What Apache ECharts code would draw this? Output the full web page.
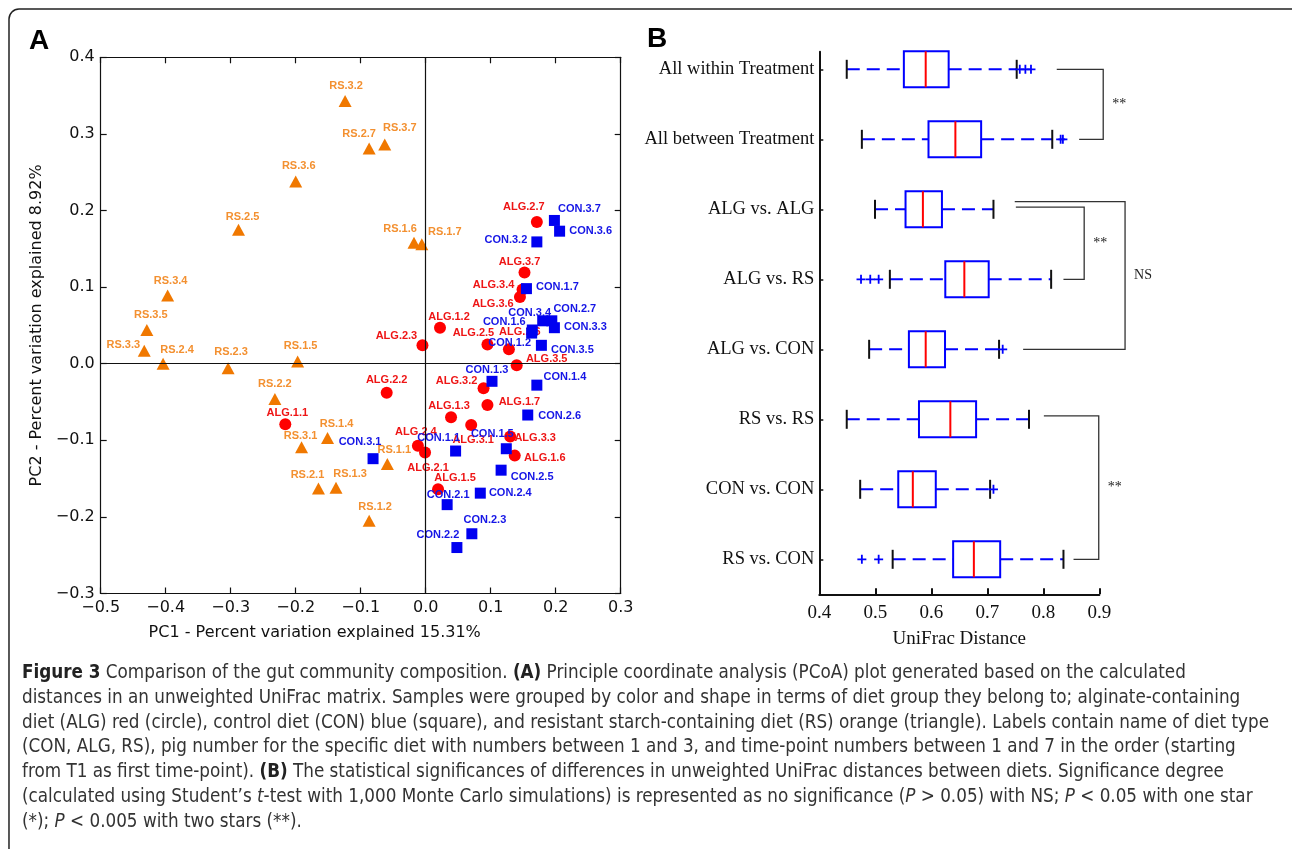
<!DOCTYPE html>
<html>
<head>
<meta charset="utf-8">
<script src="https://cdn.jsdelivr.net/npm/echarts@6/dist/echarts.min.js"></script>
<style>
html, body { margin: 0; padding: 0; background: #fff; }
#main { width: 1292px; height: 849px; }
</style>
</head>
<body>
<div id="main"></div>
<script>
// ---- panel A: PCoA scores ----
var rsLabels = ['RS.3.2','RS.2.7','RS.3.7','RS.3.6','RS.2.5','RS.1.6','RS.1.7','RS.3.4','RS.3.5','RS.3.3',
                'RS.2.4','RS.2.3','RS.1.5','RS.2.2','RS.1.4','RS.3.1','RS.1.1','RS.2.1','RS.1.3','RS.1.2'];
var rsPc1 = [-0.124,-0.087,-0.063,-0.200,-0.288,-0.018,-0.006,-0.397,-0.429,-0.433,
             -0.404,-0.304,-0.197,-0.232,-0.151,-0.191,-0.059,-0.165,-0.138,-0.087];
var rsPc2 = [0.343,0.281,0.286,0.238,0.175,0.158,0.156,0.089,0.044,0.017,
             0.000,-0.006,0.003,-0.046,-0.097,-0.109,-0.131,-0.163,-0.162,-0.205];

var algLabels = ['ALG.2.7','ALG.3.7','ALG.3.4','ALG.3.6','ALG.1.2','ALG.2.3','ALG.2.5','ALG.2.6','ALG.3.5','ALG.2.2',
                 'ALG.3.2','ALG.1.7','ALG.1.3','ALG.1.1','ALG.3.1','ALG.3.3','ALG.2.4','ALG.2.1','ALG.1.6','ALG.1.5'];
var algPc1 = [0.171,0.152,0.149,0.145,0.022,-0.005,0.095,0.128,0.140,-0.060,
              0.089,0.095,0.039,-0.216,0.070,0.130,-0.012,-0.001,0.137,0.019];
var algPc2 = [0.185,0.119,0.097,0.087,0.047,0.024,0.025,0.019,-0.002,-0.038,
              -0.032,-0.054,-0.070,-0.079,-0.080,-0.095,-0.107,-0.116,-0.120,-0.164];

var conLabels = ['CON.3.7','CON.3.6','CON.3.2','CON.1.7','CON.3.4','CON.2.7','CON.1.6','CON.3.3','CON.1.2','CON.3.5','CON.1.3',
                 'CON.1.4','CON.2.6','CON.3.1','CON.1.1','CON.1.5','CON.2.5','CON.2.4','CON.2.1','CON.2.3','CON.2.2'];
var conPc1 = [0.198,0.206,0.171,0.155,0.180,0.194,0.164,0.198,0.163,0.178,0.102,
              0.171,0.157,-0.081,0.046,0.124,0.116,0.084,0.033,0.071,0.048];
var conPc2 = [0.187,0.173,0.159,0.098,0.056,0.056,0.044,0.047,0.040,0.024,-0.023,
              -0.028,-0.067,-0.124,-0.114,-0.111,-0.139,-0.169,-0.184,-0.222,-0.240];

// label placement (pixels from the marker), layout only
var rsLabelOffset = [[1,-15],[-10,-14],[15,-17],[3,-15],[4,-13],[-14,-14],[23,-12],[3,-15],[4,-15],[-21,-6],
                     [14,-14],[3,-16],[3,-15],[0,-15],[9,-14],[-1,-11],[7,-14],[-11,-14],[14,-14],[6,-14]];
var algLabelOffset = [[-13,-15],[-5,-11],[-29,-4],[-27,7],[9,-11],[-26,-9],[-14,-12],[11,-17],[30,-6],[0,-13],
                      [-27,-7],[32,-3],[-2,-11],[2,-11],[2,15],[25,1],[-2,-14],[3,15],[30,2],[17,-11]];
var conLabelOffset = [[25,-11],[31,0],[-31,-2],[31,-2],[-13,-8],[23,-12],[-28,-8],[31,-1],[-22,10],[31,5],[-5,-11],
                      [28,-8],[32,1],[-13,-17],[-17,-13],[-14,-15],[31,7],[30,0],[1,-10],[13,-14],[-19,-13]];

// ---- panel B: UniFrac distance box plots ----
var boxCats = ['All within Treatment','All between Treatment','ALG vs. ALG','ALG vs. RS',
               'ALG vs. CON','RS vs. RS','CON vs. CON','RS vs. CON'];
var boxLow  = [0.449, 0.476, 0.4995, 0.526, 0.489, 0.449, 0.473, 0.531];
var boxQ1   = [0.551, 0.595, 0.554, 0.625, 0.560, 0.578, 0.541, 0.639];
var boxMed  = [0.590, 0.643, 0.585, 0.659, 0.590, 0.634, 0.567, 0.676];
var boxQ3   = [0.631, 0.689, 0.619, 0.7025, 0.6245, 0.680, 0.608, 0.723];
var boxHigh = [0.7525, 0.816, 0.711, 0.814, 0.721, 0.7745, 0.705, 0.836];
var outlierRow = [0, 0, 0, 1, 1, 3, 3, 3, 4, 6, 7, 7];
var outlierVal = [0.758, 0.768, 0.778, 0.831, 0.835, 0.4745, 0.491, 0.506, 0.7275, 0.711, 0.476, 0.506];

var sigLabels = ['**', '**', 'NS', '**'];
var sigStartX = [0.824, 0.751, 0.749, 0.801];
var sigBarX   = [0.907, 0.873, 0.946, 0.899];
var sigEndX   = [0.864, 0.836, 0.764, 0.854];
var sigTopRow = [0, 1.97, 1.89, 4.95];
var sigBotRow = [1, 3, 4, 7];

var captionLines = [
  '{b|Figure 3} Comparison of the gut community composition. {b|(A)} Principle coordinate analysis (PCoA) plot generated based on the calculated',
  'distances in an unweighted UniFrac matrix. Samples were grouped by color and shape in terms of diet group they belong to; alginate-containing',
  'diet (ALG) red (circle), control diet (CON) blue (square), and resistant starch-containing diet (RS) orange (triangle). Labels contain name of diet type',
  '(CON, ALG, RS), pig number for the specific diet with numbers between 1 and 3, and time-point numbers between 1 and 7 in the order (starting',
  'from T1 as first time-point). {b|(B)} The statistical significances of differences in unweighted UniFrac distances between diets. Significance degree',
  '(calculated using Student\u2019s {i|t}-test with 1,000 Monte Carlo simulations) is represented as no significance ({i|P} > 0.05) with NS; {i|P} < 0.05 with one star',
  '(*); {i|P} < 0.005 with two stars (**).'
];

function pcaData(labels, xs, ys, offs) {
    var out = [];
    for (var i = 0; i < labels.length; i++) {
        out.push({ name: labels[i], value: [xs[i], ys[i]], label: { offset: offs[i] } });
    }
    return out;
}

function minusFmt(v) {
    var s = Math.abs(v).toFixed(1);
    return (v < -1e-9 ? '\u2212' : '') + s;
}

var SANS = 'DejaVu Sans';
var SERIF = 'Liberation Serif';
var CAP_FONT = 'DejaVu Sans Condensed, sans-serif';

var myChart = echarts.init(document.getElementById('main'));

var boxData = [];
for (var i = 0; i < boxCats.length; i++) {
    boxData.push([boxLow[i], boxQ1[i], boxMed[i], boxQ3[i], boxHigh[i], i]);
}
var outData = [];
for (var i = 0; i < outlierVal.length; i++) {
    outData.push([outlierVal[i], outlierRow[i]]);
}
var sigData = [];
for (var i = 0; i < sigLabels.length; i++) {
    sigData.push([sigStartX[i], sigBarX[i], sigEndX[i], sigTopRow[i], sigBotRow[i], i]);
}

var captionGraphics = [];
for (var i = 0; i < captionLines.length; i++) {
    captionGraphics.push({
        type: 'text', left: 22, top: 664 + i * 24.7, silent: true,
        style: {
            text: captionLines[i],
            fill: '#333', font: '18.7px ' + CAP_FONT,
            rich: {
                b: { fontWeight: 'bold', fontSize: 18.7, fontFamily: CAP_FONT, fill: '#222' },
                i: { fontStyle: 'italic', fontSize: 18.7, fontFamily: CAP_FONT, fill: '#333' }
            }
        }
    });
}

var labelBase = { show: true, position: 'inside', formatter: '{b}', fontSize: 11, fontWeight: 'bold', fontFamily: 'Liberation Sans' };

var frameA = {
    axisLine: { onZero: false, lineStyle: { color: '#111', width: 1.2 } },
    axisTick: { inside: true, length: 6, lineStyle: { color: '#111', width: 1.2 } },
    splitLine: { show: false }
};

var option = {
    animation: false,
    backgroundColor: '#fff',
    grid: [
        { left: 100.7, top: 57.3, width: 520, height: 536.2 },
        { left: 819.3, top: 51.8, width: 280, height: 542.5 }
    ],
    xAxis: [
        echarts.util.extend({
            gridIndex: 0, type: 'value', position: 'bottom', min: -0.5, max: 0.3, interval: 0.1,
            name: 'PC1 - Percent variation explained 15.31%', nameLocation: 'middle', nameGap: 31,
            nameTextStyle: { fontFamily: SANS, fontSize: 16, color: '#111', padding: [0, 92, 0, 0] },
            axisLabel: { margin: 6, fontFamily: SANS, fontSize: 16, color: '#111', formatter: minusFmt }
        }, frameA),
        echarts.util.extend({
            gridIndex: 0, type: 'value', position: 'top', min: -0.5, max: 0.3, interval: 0.1,
            axisLabel: { show: false }
        }, frameA),
        {
            gridIndex: 1, type: 'value', position: 'bottom', min: 0.4, max: 0.9, interval: 0.1,
            name: 'UniFrac Distance', nameLocation: 'middle', nameGap: 35,
            nameTextStyle: { fontFamily: SERIF, fontSize: 19, color: '#111' },
            axisLine: { onZero: false, lineStyle: { color: '#111', width: 2 } },
            axisTick: { inside: true, length: 6, lineStyle: { color: '#111', width: 2 } },
            axisLabel: { margin: 9, fontFamily: SERIF, fontSize: 19, color: '#111', formatter: function (v) { return v.toFixed(1); } },
            splitLine: { show: false }
        }
    ],
    yAxis: [
        echarts.util.extend({
            gridIndex: 0, type: 'value', position: 'left', min: -0.3, max: 0.4, interval: 0.1,
            name: 'PC2 - Percent variation explained 8.92%', nameLocation: 'middle', nameGap: 56,
            nameTextStyle: { fontFamily: SANS, fontSize: 16, color: '#111' },
            axisLabel: { margin: 6, fontFamily: SANS, fontSize: 16, color: '#111', formatter: minusFmt }
        }, frameA),
        echarts.util.extend({
            gridIndex: 0, type: 'value', position: 'right', min: -0.3, max: 0.4, interval: 0.1,
            axisLabel: { show: false }
        }, frameA),
        {
            gridIndex: 1, type: 'value', position: 'left', min: -0.25, max: 7.5, inverse: true,
            axisLine: { onZero: false, lineStyle: { color: '#111', width: 2 } },
            axisTick: { inside: true, length: 4, customValues: [0, 1, 2, 3, 4, 5, 6, 7], lineStyle: { color: '#111', width: 1.5 } },
            axisLabel: {
                margin: 5, fontFamily: SERIF, fontSize: 18.5, color: '#111',
                customValues: [0, 1, 2, 3, 4, 5, 6, 7],
                formatter: function (v) { return boxCats[Math.round(v)]; }
            },
            splitLine: { show: false }
        }
    ],
    series: [
        {
            name: 'RS', type: 'scatter', xAxisIndex: 0, yAxisIndex: 0, z: 2,
            symbol: 'triangle', symbolSize: [13, 12],
            itemStyle: { color: '#f07800', opacity: 1 },
            label: echarts.util.extend({ color: '#f39030' }, labelBase),
            data: pcaData(rsLabels, rsPc1, rsPc2, rsLabelOffset),
            markLine: {
                silent: true, symbol: 'none', label: { show: false },
                lineStyle: { color: '#111', width: 1.2, type: 'solid' },
                data: [{ xAxis: 0 }, { yAxis: 0 }]
            }
        },
        {
            name: 'ALG', type: 'scatter', xAxisIndex: 0, yAxisIndex: 0, z: 3,
            symbol: 'circle', symbolSize: 12,
            itemStyle: { color: '#ff0000', opacity: 1 },
            label: echarts.util.extend({ color: '#ee1515' }, labelBase),
            data: pcaData(algLabels, algPc1, algPc2, algLabelOffset)
        },
        {
            name: 'CON', type: 'scatter', xAxisIndex: 0, yAxisIndex: 0, z: 4,
            symbol: 'rect', symbolSize: 11,
            itemStyle: { color: '#0000f0', opacity: 1 },
            label: echarts.util.extend({ color: '#1515e6' }, labelBase),
            data: pcaData(conLabels, conPc1, conPc2, conLabelOffset)
        },
        {
            name: 'box', type: 'custom', xAxisIndex: 2, yAxisIndex: 2,
            encode: { x: [0, 1, 2, 3, 4], y: 5 },
            data: boxData,
            renderItem: function (params, api) {
                var row = api.value(5);
                var lo = api.coord([api.value(0), row]);
                var q1 = api.coord([api.value(1), row]);
                var md = api.coord([api.value(2), row]);
                var q3 = api.coord([api.value(3), row]);
                var hi = api.coord([api.value(4), row]);
                var cy = lo[1], hb = 18, hc = 9.5;
                var dash = { stroke: '#0000ff', lineWidth: 2, lineDash: [13, 7] };
                return {
                    type: 'group',
                    children: [
                        { type: 'line', shape: { x1: lo[0], y1: cy, x2: q1[0], y2: cy }, style: dash },
                        { type: 'line', shape: { x1: q3[0], y1: cy, x2: hi[0], y2: cy }, style: dash },
                        { type: 'line', shape: { x1: lo[0], y1: cy - hc, x2: lo[0], y2: cy + hc }, style: { stroke: '#111', lineWidth: 2 } },
                        { type: 'line', shape: { x1: hi[0], y1: cy - hc, x2: hi[0], y2: cy + hc }, style: { stroke: '#111', lineWidth: 2 } },
                        { type: 'rect', shape: { x: q1[0], y: cy - hb, width: q3[0] - q1[0], height: 2 * hb }, style: { fill: '#fff', stroke: '#0000ff', lineWidth: 2 } },
                        { type: 'line', shape: { x1: md[0], y1: cy - hb, x2: md[0], y2: cy + hb }, style: { stroke: '#ff0000', lineWidth: 2 } }
                    ]
                };
            }
        },
        {
            name: 'outliers', type: 'scatter', xAxisIndex: 2, yAxisIndex: 2,
            symbol: 'path://M4,0h2v4h4v2h-4v4h-2v-4h-4v-2h4z', symbolSize: 9,
            itemStyle: { color: '#0000ff', opacity: 1 },
            data: outData
        },
        {
            name: 'significance', type: 'custom', xAxisIndex: 2, yAxisIndex: 2, clip: false,
            encode: { x: [0, 1, 2], y: [3, 4] },
            data: sigData,
            renderItem: function (params, api) {
                var a = api.coord([api.value(0), api.value(3)]);
                var b = api.coord([api.value(1), api.value(3)]);
                var c = api.coord([api.value(1), api.value(4)]);
                var d = api.coord([api.value(2), api.value(4)]);
                return {
                    type: 'group',
                    children: [
                        { type: 'polyline', shape: { points: [a, b, c, d] }, style: { stroke: '#333', lineWidth: 1.3, fill: null } },
                        {
                            type: 'text',
                            style: {
                                text: sigLabels[api.value(5)], x: b[0] + 9, y: (b[1] + c[1]) / 2,
                                fill: '#222', font: '14px ' + SERIF, textAlign: 'left', textVerticalAlign: 'middle'
                            }
                        }
                    ]
                };
            }
        }
    ],
    graphic: [
        {
            type: 'rect', silent: true, z: -1,
            shape: { x: 9, y: 9, width: 1292, height: 900, r: 10 },
            style: { fill: 'none', stroke: '#222', lineWidth: 1.5 }
        },
        { type: 'text', left: 29, top: 27, silent: true, style: { text: 'A', font: 'bold 28px Liberation Sans', fill: '#000' } },
        { type: 'text', left: 647, top: 25, silent: true, style: { text: 'B', font: 'bold 28px Liberation Sans', fill: '#000' } }
    ].concat(captionGraphics)
};

myChart.setOption(option);
</script>
</body>
</html>
